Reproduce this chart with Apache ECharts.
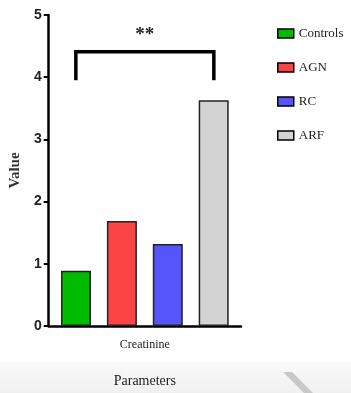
<!DOCTYPE html>
<html>
<head>
<meta charset="utf-8">
<script src="https://cdn.jsdelivr.net/npm/echarts@6/dist/echarts.min.js"></script>
<style>
  html, body { margin: 0; padding: 0; background: #fff; }
  #chart { width: 351px; height: 393px; }
</style>
</head>
<body>
<div id="chart"></div>
<script>
const categories = ['Creatinine'];
const groups = ['Controls', 'AGN', 'RC', 'ARF'];
const values = [0.89, 1.69, 1.32, 3.63];
const colors = ['#00bb00', '#fb4545', '#5555fb', '#d3d3d3'];
const yTicks = [0, 1, 2, 3, 4, 5];
// significance bracket: from first to last group, legs down to 3.95, top at 4.41
const bracket = { low: 3.95, high: 4.41, label: '**' };

const serif = '"Liberation Serif", "DejaVu Serif", serif';
const chart = echarts.init(document.getElementById('chart'));

const series = groups.map((g, i) => ({
  name: g,
  type: 'bar',
  barWidth: 30,
  barGap: '53%',
  itemStyle: {
    color: colors[i],
    borderColor: '#222',
    borderWidth: 1.5,
  },
  data: [values[i]],
}));

chart.setOption({
  animation: false,
  grid: { left: 41, right: 110, top: 15, bottom: 64 },
  legend: {
    orient: 'vertical',
    left: 272,
    top: 22,
    icon: 'rect',
    itemWidth: 16,
    itemHeight: 9,
    itemGap: 21,
    itemStyle: { borderColor: '#000', borderWidth: 1.5 },
    textStyle: { fontFamily: serif, fontSize: 13, color: '#222' },
    data: groups,
  },
  xAxis: {
    type: 'category',
    data: categories,
    name: 'Parameters',
    nameLocation: 'middle',
    nameGap: 48,
    nameTextStyle: { fontFamily: serif, fontSize: 14, color: '#222' },
    axisLine: { lineStyle: { color: '#000', width: 2.5 } },
    axisTick: { alignWithLabel: true, length: 6, lineStyle: { color: '#000', width: 1.5 } },
    axisLabel: { fontFamily: serif, fontSize: 12, color: '#222', margin: 13 },
  },
  yAxis: {
    type: 'value',
    min: yTicks[0],
    max: yTicks[yTicks.length - 1],
    interval: 1,
    name: 'Value',
    nameLocation: 'middle',
    nameGap: 24,
    nameTextStyle: { fontFamily: serif, fontSize: 15, fontWeight: 'bold', color: '#333' },
    axisLine: { show: true, lineStyle: { color: '#000', width: 2.5 } },
    axisTick: { show: true, length: 5, lineStyle: { color: '#000', width: 2 } },
    axisLabel: { fontFamily: '"Liberation Sans", Arial, sans-serif', fontSize: 14, fontWeight: 'bold', color: '#222', margin: 7 },
    splitLine: { show: false },
  },
  series,
});

// bracket drawn over bar centres of first and last group
function drawBracket() {
  const yLow = chart.convertToPixel({ yAxisIndex: 0 }, bracket.low);
  const yHigh = chart.convertToPixel({ yAxisIndex: 0 }, bracket.high);
  const cx = chart.convertToPixel({ xAxisIndex: 0 }, categories[0]);
  const half = 69;
  chart.setOption({
    graphic: [
      {
        type: 'rect', silent: true, z: -10,
        shape: { x: 0, y: 362, width: 351, height: 31 },
        style: { fill: new echarts.graphic.LinearGradient(0, 0, 0, 1, [
          { offset: 0, color: '#fafafa' }, { offset: 1, color: '#f0f0f0' }]) },
      },
      {
        type: 'polygon', silent: true, z: -9,
        shape: { points: [[283, 372], [292, 372], [313, 393], [304, 393]] },
        style: { fill: '#c8c8c8' },
      },
      {
        type: 'polyline', silent: true,
        shape: { points: [[cx - half, yLow], [cx - half, yHigh], [cx + half, yHigh], [cx + half, yLow]] },
        style: { stroke: '#000', lineWidth: 3.5, fill: null },
      },
      {
        type: 'text', silent: true,
        x: cx, y: yHigh - 17,
        style: { text: bracket.label, fontFamily: serif, fontSize: 19, fontWeight: 'bold', fill: '#222', align: 'center', verticalAlign: 'middle' },
      },
    ],
  });
}
drawBracket();
</script>
</body>
</html>
